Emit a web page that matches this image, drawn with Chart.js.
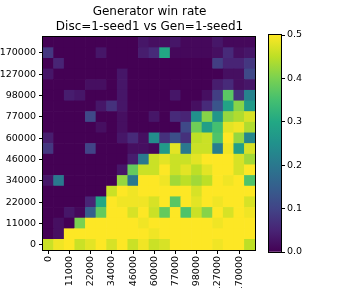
<!DOCTYPE html>
<html>
<head>
<meta charset="utf-8">
<script src="https://cdn.jsdelivr.net/npm/chart.js@4/dist/chart.umd.min.js"></script>
<style>
  html, body { margin: 0; padding: 0; background: #fff; }
  #wrap { position: relative; width: 342px; height: 288px; overflow: hidden; }
  #heat { position: absolute; left: 0; top: 0; }
  #cbar { position: absolute; left: 262px; top: 0; }
  #title { position: absolute; left: 0; top: 4px; width: 299px; text-align: center;
           font: 12px "DejaVu Sans"; line-height: 15px; color: #000; }
</style>
</head>
<body>
<div id="wrap">
  <canvas id="heat" width="262" height="288"></canvas>
  <canvas id="cbar" width="80" height="288"></canvas>
  <div id="title">Generator win rate<br>Disc=1-seed1 vs Gen=1-seed1</div>
</div>
<script>
// ticks (only every second one is labelled in the picture)
const xLabels = ['0', '5000', '11000', '16000', '22000', '28000', '34000', '40000', '46000', '53000',
                 '60000', '68000', '77000', '87000', '98000', '111000', '127000', '146000', '170000', '200000'];
const yLabels = xLabels.slice();
const colorRange = [0, 0.5];

// win rate per cell, top row first (row 19 ... row 0), columns left to right
const winRateRows = [
  [0, 0, 0, 0, 0, 0, 0, 0, 0, 0.03, 0.02, 0.02, 0.03, 0.01, 0.01, 0.01, 0.03, 0.01, 0.01, 0.01],
  [0.08, 0, 0, 0, 0, 0.03, 0, 0, 0, 0.04, 0.06, 0.3, 0.01, 0.01, 0.01, 0.01, 0.02, 0.06, 0.02, 0.03],
  [0, 0.05, 0, 0, 0, 0, 0, 0, 0, 0, 0, 0, 0, 0, 0, 0, 0.09, 0.05, 0.05, 0.08],
  [0.03, 0, 0, 0, 0, 0, 0, 0.03, 0, 0, 0, 0, 0, 0, 0, 0, 0, 0.02, 0.02, 0.11],
  [0, 0, 0, 0, 0.02, 0.02, 0, 0.03, 0, 0, 0, 0, 0, 0, 0, 0, 0.04, 0.06, 0.02, 0.03],
  [0, 0, 0.04, 0.03, 0, 0, 0, 0.03, 0, 0, 0, 0, 0.03, 0, 0, 0.02, 0.09, 0.37, 0.07, 0.22],
  [0, 0, 0, 0, 0, 0.03, 0.07, 0.03, 0, 0, 0, 0, 0, 0, 0.02, 0.06, 0.13, 0.29, 0.41, 0.27],
  [0, 0, 0, 0, 0.11, 0, 0, 0.02, 0, 0, 0.03, 0, 0.06, 0.05, 0.25, 0.41, 0.26, 0.42, 0.44, 0.47],
  [0, 0, 0, 0, 0, 0.02, 0, 0.02, 0, 0, 0, 0, 0, 0.11, 0.39, 0.28, 0.35, 0.48, 0.49, 0.44],
  [0.04, 0, 0, 0, 0, 0, 0, 0.03, 0.06, 0.02, 0.24, 0.07, 0.12, 0.07, 0.45, 0.46, 0.36, 0.5, 0.42, 0.23],
  [0.08, 0, 0, 0, 0.1, 0, 0, 0, 0.02, 0.02, 0.01, 0.27, 0.48, 0.2, 0.46, 0.46, 0.21, 0.49, 0.28, 0.47],
  [0, 0, 0, 0, 0, 0, 0, 0, 0.04, 0.2, 0.46, 0.48, 0.46, 0.46, 0.48, 0.5, 0.5, 0.5, 0.47, 0.43],
  [0, 0, 0, 0, 0, 0, 0, 0.03, 0.38, 0.46, 0.46, 0.5, 0.46, 0.48, 0.45, 0.48, 0.5, 0.5, 0.47, 0.5],
  [0.03, 0.2, 0, 0, 0, 0, 0, 0.42, 0.2, 0.5, 0.5, 0.49, 0.43, 0.45, 0.43, 0.45, 0.5, 0.49, 0.5, 0.36],
  [0, 0, 0, 0, 0, 0, 0.46, 0.5, 0.49, 0.5, 0.5, 0.5, 0.5, 0.5, 0.47, 0.5, 0.5, 0.5, 0.5, 0.5],
  [0, 0, 0, 0, 0.05, 0.3, 0.5, 0.49, 0.49, 0.49, 0.47, 0.5, 0.37, 0.5, 0.48, 0.5, 0.49, 0.5, 0.5, 0.47],
  [0, 0, 0.03, 0.01, 0.15, 0.38, 0.5, 0.5, 0.47, 0.5, 0.46, 0.38, 0.5, 0.36, 0.46, 0.41, 0.5, 0.47, 0.5, 0.49],
  [0, 0.02, 0, 0.4, 0.5, 0.5, 0.5, 0.5, 0.5, 0.49, 0.5, 0.5, 0.5, 0.5, 0.5, 0.5, 0.49, 0.5, 0.5, 0.5],
  [0, 0.02, 0.5, 0.5, 0.5, 0.5, 0.5, 0.5, 0.5, 0.5, 0.49, 0.5, 0.5, 0.5, 0.5, 0.5, 0.5, 0.5, 0.5, 0.5],
  [0.46, 0.49, 0.5, 0.46, 0.48, 0.5, 0.47, 0.5, 0.46, 0.49, 0.46, 0.47, 0.5, 0.5, 0.5, 0.5, 0.49, 0.5, 0.5, 0.45]
];

// viridis
const viridisStops = ['#440154', '#482475', '#414487', '#355f8d', '#2a788e', '#21918c',
                      '#22a884', '#44bf70', '#7ad151', '#bddf26', '#fde725'];
function hexRgb(h) {
  return [parseInt(h.slice(1, 3), 16), parseInt(h.slice(3, 5), 16), parseInt(h.slice(5, 7), 16)];
}
function viridis(v) {
  let t = (v - colorRange[0]) / (colorRange[1] - colorRange[0]);
  t = Math.max(0, Math.min(1, t)) * (viridisStops.length - 1);
  const i = Math.min(Math.floor(t), viridisStops.length - 2);
  const f = t - i;
  const a = hexRgb(viridisStops[i]), b = hexRgb(viridisStops[i + 1]);
  const c = a.map((x, k) => Math.round(x + (b[k] - x) * f));
  return `rgb(${c[0]},${c[1]},${c[2]})`;
}

const tickFont = { family: 'DejaVu Sans', size: 9.5 };
const nRows = winRateRows.length;

const frame = {
  id: 'frame',
  afterDraw(chart) {
    const a = chart.chartArea, ctx = chart.ctx;
    ctx.save();
    ctx.strokeStyle = '#000';
    ctx.lineWidth = 1;
    ctx.strokeRect(Math.round(a.left) - 0.5, Math.round(a.top) - 0.5,
                   Math.round(a.right - a.left) + 1, Math.round(a.bottom - a.top) + 1);
    ctx.restore();
  }
};

// each dataset is one row of cells, drawn as floating bars [r, r+1]
const rowSets = [];
for (let r = 0; r < nRows; r++) {
  const vals = winRateRows[nRows - 1 - r];
  rowSets.push({
    data: vals.map(() => [r, r + 1]),
    backgroundColor: vals.map(viridis),
    borderWidth: 0
  });
}

new Chart(document.getElementById('heat'), {
  type: 'bar',
  data: { labels: xLabels, datasets: rowSets },
  options: {
    responsive: false,
    animation: false,
    layout: { padding: { top: 37, right: 7, left: 0, bottom: 0 } },
    datasets: { bar: { barPercentage: 1, categoryPercentage: 1, grouped: false } },
    plugins: { legend: { display: false }, tooltip: { enabled: false } },
    scales: {
      x: {
        grid: { drawOnChartArea: false, drawTicks: true, tickLength: 4, color: '#000', offset: false },
        border: { display: false },
        afterBuildTicks(axis) { axis.ticks = axis.ticks.filter((t, i) => i % 2 === 0); },
        afterFit(axis) { axis.height = 38; },
        ticks: { color: '#000', font: tickFont, minRotation: 90, maxRotation: 90, autoSkip: false, padding: 2 }
      },
      y: {
        min: 0, max: nRows,
        grid: { drawOnChartArea: false, drawTicks: true, tickLength: 4, color: '#000' },
        border: { display: false },
        afterBuildTicks(axis) {
          axis.ticks = yLabels.map((l, i) => ({ value: i + 0.5 })).filter((t, i) => i % 2 === 0);
        },
        afterFit(axis) { axis.width = 43; },
        ticks: {
          color: '#000', font: tickFont, padding: 3,
          callback: (v) => yLabels[Math.round(v - 0.5)]
        }
      }
    }
  },
  plugins: [frame]
});

// colour bar
new Chart(document.getElementById('cbar'), {
  type: 'bar',
  data: {
    labels: [''],
    datasets: [{
      data: [colorRange],
      borderWidth: 0,
      backgroundColor(ctx) {
        const a = ctx.chart.chartArea;
        if (!a) return viridis(colorRange[1]);
        const g = ctx.chart.ctx.createLinearGradient(0, a.bottom, 0, a.top);
        viridisStops.forEach((c, i) => g.addColorStop(i / (viridisStops.length - 1), c));
        return g;
      }
    }]
  },
  options: {
    responsive: false,
    animation: false,
    layout: { padding: { top: 35, right: 0, left: 7, bottom: 36 } },
    datasets: { bar: { barPercentage: 1, categoryPercentage: 1 } },
    plugins: { legend: { display: false }, tooltip: { enabled: false } },
    scales: {
      x: { display: false },
      y: {
        position: 'right',
        min: colorRange[0], max: colorRange[1],
        grid: { drawOnChartArea: false, drawTicks: true, tickLength: 4, color: '#000' },
        border: { display: false },
        afterFit(axis) { axis.width = 61; },
        ticks: { color: '#000', font: tickFont, stepSize: 0.1, padding: 2, callback: (v) => v.toFixed(1) }
      }
    }
  },
  plugins: [frame]
});
</script>
</body>
</html>
